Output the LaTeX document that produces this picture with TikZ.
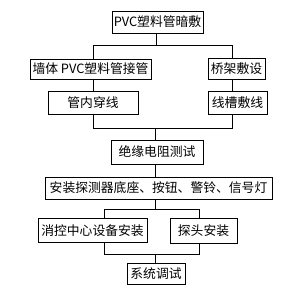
\documentclass[tikz,border=0pt]{standalone}
\usepackage{fontspec}
\newfontfamily\cjk{Noto Sans CJK SC}
\begin{document}
\begin{tikzpicture}[x=1pt,y=-1pt,line width=0.8pt,line join=miter,
  stepbox/.style={draw,inner sep=0pt,font=\cjk\fontsize{12.8}{14}\selectfont}]
  \useasboundingbox (0,0) rectangle (307,298);
  % boxes
  \node[stepbox,minimum width=91pt,minimum height=22pt] (pvc) at (157.5,22) {PVC塑料管暗敷};
  \node[stepbox,minimum width=121pt,minimum height=20pt] (wall) at (90.5,69) {墙体 PVC塑料管接管};
  \node[stepbox,minimum width=57pt,minimum height=21pt] (bridge) at (236.5,68.5) {桥架敷设};
  \node[stepbox,minimum width=90pt,minimum height=23pt] (tube) at (93,102.5) {管内穿线};
  \node[stepbox,minimum width=59pt,minimum height=23pt] (trough) at (237.5,102.5) {线槽敷线};
  \node[stepbox,minimum width=92pt,minimum height=24pt] (insul) at (157,152) {绝缘电阻测试};
  \node[stepbox,minimum width=227pt,minimum height=22pt] (mount) at (158.5,188) {安装探测器底座、按钮、警铃、信号灯};
  \node[stepbox,minimum width=109pt,minimum height=24pt] (ctrl) at (92.5,230.5) {消控中心设备安装};
  \node[stepbox,minimum width=67pt,minimum height=25pt] (probe) at (203.5,230.5) {探头安装};
  \node[stepbox,minimum width=58pt,minimum height=21pt] (debug) at (156,274) {系统调试};
  % junctions
  \coordinate (t) at (156,45);
  \coordinate (tl) at (93,45);
  \coordinate (tr) at (232,45);
  \coordinate (m) at (155,128);
  \coordinate (ml) at (93,128);
  \coordinate (mr) at (232,128);
  \coordinate (s) at (155,209);
  \coordinate (sl) at (104,209);
  \coordinate (sr) at (199,209);
  \coordinate (e) at (155,254);
  \coordinate (el) at (104,254);
  \coordinate (er) at (199,254);
  % connectors
  \draw (pvc.south -| t) -- (t);
  \draw (wall.north -| tl) -- (tl) -- (tr) -- (bridge.north -| tr);
  \draw (wall.south -| tl) -- (tube.north -| tl);
  \draw (bridge.south -| tr) -- (trough.north -| tr);
  \draw (tube.south -| ml) -- (ml) -- (mr) -- (trough.south -| mr);
  \draw (m) -- (insul.north -| m);
  \draw (insul.south -| m) -- (mount.north -| m);
  \draw (mount.south -| s) -- (s);
  \draw (ctrl.north -| sl) -- (sl) -- (sr) -- (probe.north -| sr);
  \draw (ctrl.south -| el) -- (el) -- (er) -- (probe.south -| er);
  \draw (e) -- (debug.north -| e);
\end{tikzpicture}
\end{document}
